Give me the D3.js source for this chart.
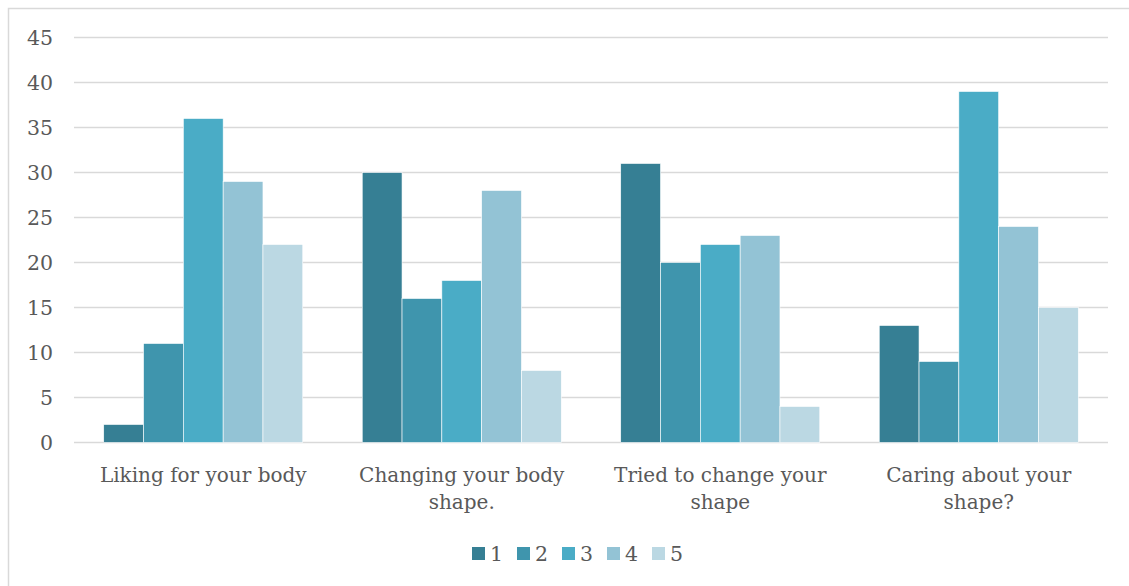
<!DOCTYPE html>
<html>
<head>
<meta charset="utf-8">
<script src="https://cdn.jsdelivr.net/npm/d3@7/dist/d3.min.js"></script>
<style>
  body { margin: 0; background: #fff; }
  text { font-family: "DejaVu Serif", serif; fill: #595959; }
</style>
</head>
<body>
<svg id="chart" width="1129" height="586"></svg>
<script>
const categories = ["Liking for your body", "Changing your body shape.", "Tried to change your shape", "Caring about your shape?"];
const seriesNames = ["1", "2", "3", "4", "5"];
const s1 = [2, 30, 31, 13];
const s2 = [11, 16, 20, 9];
const s3 = [36, 18, 22, 39];
const s4 = [29, 28, 23, 24];
const s5 = [22, 8, 4, 15];
const yTicks = [0, 5, 10, 15, 20, 25, 30, 35, 40, 45];
const colors = ["#367f94", "#3f95ad", "#4aacc6", "#93c3d5", "#bbd8e3"];

const allSeries = [s1, s2, s3, s4, s5];
const svg = d3.select('#chart');

// chart frame (runs off the right and bottom edges)
svg.append('rect').attr('x', 8.5).attr('y', 8.5).attr('width', 1140).attr('height', 600)
  .attr('fill', 'none').attr('stroke', '#d9d9d9').attr('stroke-width', 1.5);

const margin = { left: 74, right: 1108, top: 37.5, bottom: 442.5 };

const x0 = d3.scaleBand().domain(categories).range([margin.left, margin.right]).paddingInner(0.23).paddingOuter(0.115);
const x1 = d3.scaleBand().domain(seriesNames).range([0, x0.bandwidth()]);
const y = d3.scaleLinear().domain([0, 45]).range([margin.bottom, margin.top]);

// gridlines
svg.append('g').selectAll('line').data(yTicks).join('line')
  .attr('x1', margin.left).attr('x2', margin.right)
  .attr('y1', d => y(d)).attr('y2', d => y(d))
  .attr('stroke', '#d9d9d9').attr('stroke-width', 1.5);

// y tick labels
const yAxis = d3.axisLeft(y).tickValues(yTicks).tickSize(0).tickPadding(0);
const ya = svg.append('g').attr('transform', `translate(53,0)`).call(yAxis);
ya.select('.domain').remove();
ya.selectAll('text').attr('font-size', 20.5).style('font-family', '"DejaVu Serif", serif').attr('fill', '#595959');

// bars
const groups = svg.append('g').selectAll('g').data(categories).join('g')
  .attr('transform', d => `translate(${x0(d)},0)`);
groups.selectAll('rect')
  .data((c, ci) => seriesNames.map((s, si) => ({ s, si, v: allSeries[si][ci] })))
  .join('rect')
  .attr('x', d => x1(d.s))
  .attr('width', x1.bandwidth())
  .attr('y', d => y(d.v))
  .attr('height', d => y(0) - y(d.v))
  .attr('fill', d => colors[d.si])
  .attr('stroke', '#ffffff').attr('stroke-width', 0.6);

// category labels
const maxW = 228;
categories.forEach(c => {
  const cx = x0(c) + x0.bandwidth() / 2;
  const t = svg.append('text').attr('x', cx).attr('y', 482).attr('text-anchor', 'middle').attr('font-size', 20);
  const words = c.split(' ');
  let line = [];
  let tspan = t.append('tspan').attr('x', cx).attr('dy', 0);
  words.forEach(w => {
    line.push(w);
    tspan.text(line.join(' '));
    if (tspan.node().getComputedTextLength() > maxW && line.length > 1) {
      line.pop();
      tspan.text(line.join(' '));
      line = [w];
      tspan = t.append('tspan').attr('x', cx).attr('dy', 27).text(w);
    }
  });
});

// legend
const legend = svg.append('g').selectAll('g').data(seriesNames).join('g')
  .attr('transform', (d, i) => `translate(${472 + i * 45},547)`);
legend.append('rect').attr('width', 13).attr('height', 13).attr('fill', (d, i) => colors[i]);
legend.append('text').attr('x', 18).attr('y', 14).attr('font-size', 20.5).text(d => d);
</script>
</body>
</html>
